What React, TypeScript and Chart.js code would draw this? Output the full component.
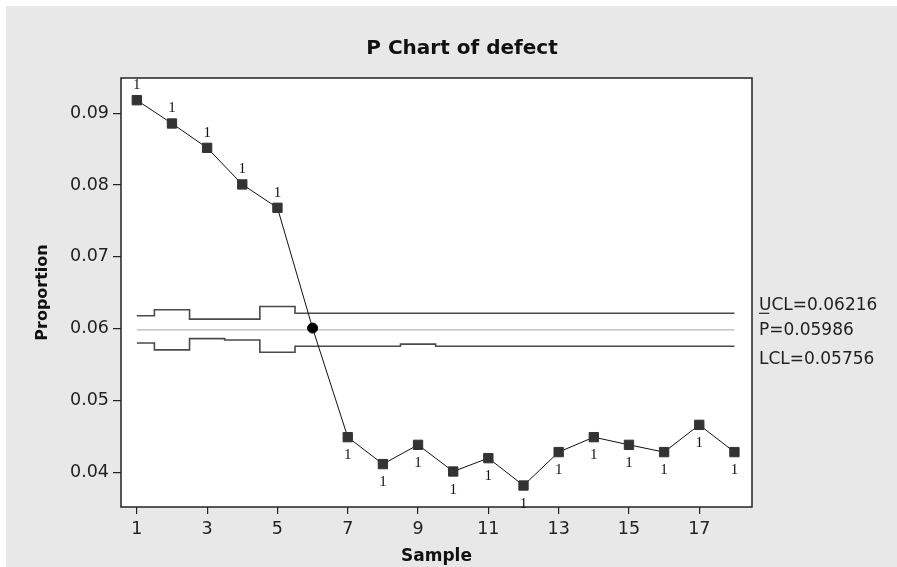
import React, { useEffect, useRef } from "react";
import { Chart, registerables } from "chart.js";

Chart.register(...registerables);

const samples = [1, 2, 3, 4, 5, 6, 7, 8, 9, 10, 11, 12, 13, 14, 15, 16, 17, 18];
const proportions = [
  0.09181, 0.08857, 0.08518, 0.08009, 0.07684, 0.0601, 0.04492, 0.04117, 0.04385,
  0.04014, 0.042, 0.03819, 0.04284, 0.04492, 0.04385, 0.04284, 0.04663, 0.04284,
];
const uclValues = [
  0.06181, 0.06265, 0.06135, 0.06135, 0.06311, 0.06216, 0.06216, 0.06216, 0.06216,
  0.06216, 0.06216, 0.06216, 0.06216, 0.06216, 0.06216, 0.06216, 0.06216, 0.06216,
];
const lclValues = [
  0.05803, 0.05706, 0.05863, 0.05845, 0.05673, 0.05756, 0.05756, 0.05756, 0.05786,
  0.05756, 0.05756, 0.05756, 0.05756, 0.05756, 0.05756, 0.05756, 0.05756, 0.05756,
];
const centerValue = 0.05986;
const uclLabel = "UCL=0.06216";
const centerLabel = "=0.05986";
const lclLabel = "LCL=0.05756";
const xTicks = [1, 3, 5, 7, 9, 11, 13, 15, 17];
const yTicks = [0.04, 0.05, 0.06, 0.07, 0.08, 0.09];
const titleText = "P Chart of defect";
const xTitle = "Sample";
const yTitle = "Proportion";

const W = 897;
const H = 567;

const decorPlugin = {
  id: "decor",
  beforeDraw(chart: any) {
    const { ctx, chartArea: a } = chart;
    ctx.save();
    ctx.fillStyle = "#ffffff";
    ctx.fillRect(0, 0, W, H);
    ctx.fillStyle = "#e8e8e8";
    ctx.fillRect(6, 6, W - 6, H - 6);
    ctx.fillStyle = "#ffffff";
    ctx.fillRect(a.left, a.top, a.right - a.left, a.bottom - a.top);
    ctx.restore();
  },
  afterDraw(chart: any) {
    const { ctx, chartArea: a, scales } = chart;
    ctx.save();
    ctx.strokeStyle = "#222";
    ctx.lineWidth = 1.5;
    ctx.strokeRect(a.left, a.top, a.right - a.left, a.bottom - a.top);

    // title
    ctx.fillStyle = "#111";
    ctx.font = "bold 20px 'DejaVu Sans'";
    ctx.textAlign = "center";
    ctx.textBaseline = "alphabetic";
    ctx.fillText(titleText, 462, 54);

    // axis titles
    ctx.font = "bold 17px 'DejaVu Sans'";
    ctx.fillText(xTitle, (a.left + a.right) / 2, 561);
    ctx.save();
    ctx.translate(47, (a.top + a.bottom) / 2);
    ctx.rotate(-Math.PI / 2);
    ctx.font = "bold 16px 'DejaVu Sans'";
    ctx.fillText(yTitle, 0, 0);
    ctx.restore();

    // limit labels
    const y = scales.y;
    ctx.font = "17px 'DejaVu Sans'";
    ctx.textAlign = "left";
    ctx.fillStyle = "#222";
    const lx = a.right + 7;
    const uy = y.getPixelForValue(uclValues[uclValues.length - 1]);
    const cy = y.getPixelForValue(centerValue);
    const ly = y.getPixelForValue(lclValues[lclValues.length - 1]);
    ctx.fillText(uclLabel, lx, uy - 3);
    const pw = ctx.measureText("P").width;
    ctx.fillText("P", lx, cy + 5.5);
    ctx.fillText(centerLabel, lx + pw, cy + 5.5);
    ctx.beginPath();
    ctx.lineWidth = 1.2;
    ctx.strokeStyle = "#222";
    ctx.moveTo(lx, cy - 16.5);
    ctx.lineTo(lx + pw, cy - 16.5);
    ctx.stroke();
    ctx.fillText(lclLabel, lx, ly + 18);

    // out-of-control "1" flags
    const meta = chart.getDatasetMeta(0);
    ctx.font = "15px 'Liberation Serif'";
    ctx.textAlign = "center";
    ctx.fillStyle = "#111";
    proportions.forEach((v, i) => {
      const pt = meta.data[i];
      if (!pt) return;
      if (v > uclValues[i]) ctx.fillText("1", pt.x, pt.y - 11);
      else if (v < lclValues[i]) ctx.fillText("1", pt.x, pt.y + 22);
    });
    ctx.restore();
  },
};

export default function App() {
  const ref = useRef<HTMLCanvasElement | null>(null);
  useEffect(() => {
    if (!ref.current) return;
    const chart = new Chart(ref.current, {
      type: "line",
      data: {
        datasets: [
          {
            label: "defect",
            data: samples.map((s, i) => ({ x: s, y: proportions[i] })),
            borderColor: "#111",
            borderWidth: 1,
            backgroundColor: "#333",
            pointBackgroundColor: proportions.map((_, i) => (i === 5 ? "#000" : "#333")),
            pointBorderColor: proportions.map((_, i) => (i === 5 ? "#000" : "#333")),
            pointBorderWidth: 1,
            pointStyle: proportions.map((_, i) => (i === 5 ? "circle" : "rect")) as any,
            pointRadius: proportions.map((_, i) => (i === 5 ? 5 : 6.6)),
            tension: 0,
          },
          {
            label: "UCL",
            data: samples.map((s, i) => ({ x: s, y: uclValues[i] })),
            borderColor: "#4a4a4a",
            borderWidth: 1.6,
            pointRadius: 0,
            stepped: "middle",
          },
          {
            label: "LCL",
            data: samples.map((s, i) => ({ x: s, y: lclValues[i] })),
            borderColor: "#4a4a4a",
            borderWidth: 1.6,
            pointRadius: 0,
            stepped: "middle",
          },
          {
            label: "P",
            data: [
              { x: samples[0], y: centerValue },
              { x: samples[samples.length - 1], y: centerValue },
            ],
            borderColor: "#b8b8b8",
            borderWidth: 1.2,
            pointRadius: 0,
          },
        ],
      },
      options: {
        animation: false,
        responsive: false,
        devicePixelRatio: 1,
        layout: { padding: { left: 0, top: 78, right: W - 752, bottom: 0 } },
        plugins: { legend: { display: false }, tooltip: { enabled: false }, title: { display: false } },
        scales: {
          x: {
            type: "linear",
            min: 0.55,
            max: 18.5,
            afterFit: (s: any) => {
              s.height = H - 507;
            },
            afterBuildTicks: (s: any) => {
              s.ticks = xTicks.map((v) => ({ value: v }));
            },
            grid: { display: true, drawOnChartArea: false, drawTicks: true, tickLength: 7, color: "#222", lineWidth: 1.2 },
            border: { display: false },
            ticks: {
              autoSkip: false,
              maxRotation: 0,
              padding: 5,
              color: "#222",
              font: { family: "'DejaVu Sans'", size: 17.5 },
              callback: (v: any) => String(v),
            },
          },
          y: {
            type: "linear",
            min: 0.0352,
            max: 0.0949,
            afterFit: (s: any) => {
              s.width = 121;
            },
            afterBuildTicks: (s: any) => {
              s.ticks = yTicks.map((v) => ({ value: v }));
            },
            grid: { display: true, drawOnChartArea: false, drawTicks: true, tickLength: 8, color: "#222", lineWidth: 1.2 },
            border: { display: false },
            ticks: {
              padding: 4,
              color: "#222",
              font: { family: "'DejaVu Sans'", size: 17.5 },
              callback: (v: any) => Number(v).toFixed(2),
            },
          },
        },
      },
      plugins: [decorPlugin],
    });
    return () => chart.destroy();
  }, []);
  return (
    <div style={{ position: "absolute", left: 0, top: 0, width: W, height: H }}>
      <canvas ref={ref} width={W} height={H} style={{ display: "block", width: W, height: H }} />
    </div>
  );
}
